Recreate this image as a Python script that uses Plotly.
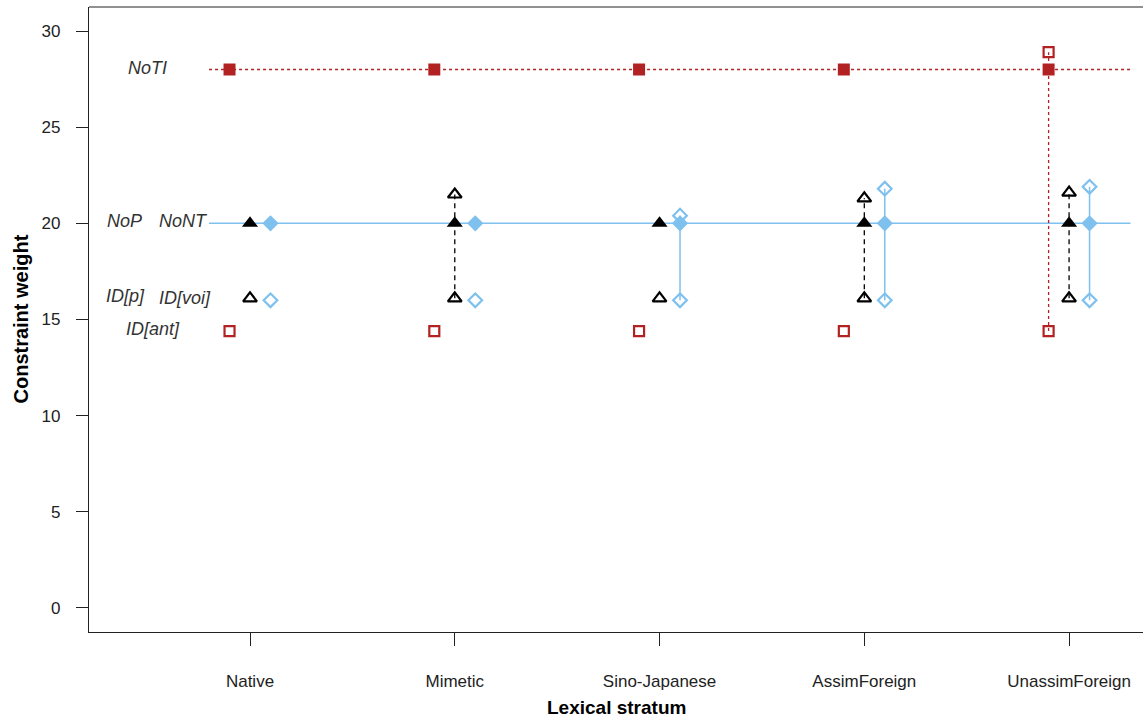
import plotly.graph_objects as go

# ---------------- data ----------------
strata = ["Native", "Mimetic", "Sino-Japanese", "AssimForeign", "UnassimForeign"]
positions = [1, 2, 3, 4, 5]

NoTI = [28.0, 28.0, 28.0, 28.0, 28.0]
ID_ant = [14.4, 14.4, 14.4, 14.4, 14.4]
ID_ant_stratum = [None, None, None, None, 28.9]

NoP = [20.0, 20.0, 20.0, 20.0, 20.0]
ID_p = [16.1, 16.1, 16.1, 16.1, 16.1]
ID_p_stratum = [None, 21.5, None, 21.3, 21.6]

NoNT = [20.0, 20.0, 20.0, 20.0, 20.0]
ID_voi = [16.0, 16.0, 16.0, 16.0, 16.0]
ID_voi_stratum = [None, None, 20.4, 21.8, 21.9]

y_ticks = [0, 5, 10, 15, 20, 25, 30]

# ---------------- style ----------------
RED = "#B22222"
BLUE = "#7EC0EE"
BLACK = "#000000"
OFFSET = 0.1
LINE_X0, LINE_X1 = 0.8, 5.3
FONT = "Liberation Sans, Arial, sans-serif"

fig = go.Figure()


def seg_lines(xs, base, spec):
    lx, ly = [], []
    for x, b, s in zip(xs, base, spec):
        if s is not None:
            lx += [x, x, None]
            ly += [b, s, None]
    return lx, ly


xr = [p - OFFSET for p in positions]
xb = [p for p in positions]
xd = [p + OFFSET for p in positions]

# horizontal reference lines
fig.add_trace(go.Scatter(x=[LINE_X0, LINE_X1], y=[NoTI[0], NoTI[0]], mode="lines",
                         line=dict(color=RED, width=1.3, dash="dot"), hoverinfo="skip"))
fig.add_trace(go.Scatter(x=[LINE_X0, LINE_X1], y=[NoNT[0], NoNT[0]], mode="lines",
                         line=dict(color=BLUE, width=1.5), hoverinfo="skip"))

# vertical connectors
lx, ly = seg_lines(xr, ID_ant, ID_ant_stratum)
fig.add_trace(go.Scatter(x=lx, y=ly, mode="lines", line=dict(color=RED, width=1.3, dash="dot")))
lx, ly = seg_lines(xb, ID_p, ID_p_stratum)
fig.add_trace(go.Scatter(x=lx, y=ly, mode="lines", line=dict(color=BLACK, width=1.3, dash="5px,4px")))
lx, ly = seg_lines(xd, ID_voi, ID_voi_stratum)
fig.add_trace(go.Scatter(x=lx, y=ly, mode="lines", line=dict(color=BLUE, width=1.5)))

# markers
open_line = 2.2
fig.add_trace(go.Scatter(x=xr, y=NoTI, mode="markers",
                         marker=dict(symbol="square", size=12, color=RED)))
fig.add_trace(go.Scatter(x=xr, y=ID_ant, mode="markers",
                         marker=dict(symbol="square-open", size=10, color=RED,
                                     line=dict(width=open_line, color=RED))))
fig.add_trace(go.Scatter(x=xr, y=ID_ant_stratum, mode="markers",
                         marker=dict(symbol="square-open", size=10, color=RED,
                                     line=dict(width=open_line, color=RED))))

fig.add_trace(go.Scatter(x=xb, y=NoP, mode="markers",
                         marker=dict(symbol="triangle-up", size=14, color=BLACK)))
fig.add_trace(go.Scatter(x=xb, y=ID_p, mode="markers",
                         marker=dict(symbol="triangle-up-open", size=12, color=BLACK,
                                     line=dict(width=open_line, color=BLACK))))
fig.add_trace(go.Scatter(x=xb, y=ID_p_stratum, mode="markers",
                         marker=dict(symbol="triangle-up-open", size=12, color=BLACK,
                                     line=dict(width=open_line, color=BLACK))))

fig.add_trace(go.Scatter(x=xd, y=NoNT, mode="markers",
                         marker=dict(symbol="diamond", size=12.5, color=BLUE)))
fig.add_trace(go.Scatter(x=xd, y=ID_voi, mode="markers",
                         marker=dict(symbol="diamond-open", size=10.5, color=BLUE,
                                     line=dict(width=open_line, color=BLUE))))
fig.add_trace(go.Scatter(x=xd, y=ID_voi_stratum, mode="markers",
                         marker=dict(symbol="diamond-open", size=10.5, color=BLUE,
                                     line=dict(width=open_line, color=BLUE))))

# constraint labels
labels = [
    ("NoTI", 0.497, NoTI[0]),
    ("NoP", 0.389, NoP[0]),
    ("NoNT", 0.676, NoNT[0]),
    ("ID[p]", 0.394, ID_p[0]),
    ("ID[voi]", 0.683, ID_voi[0]),
    ("ID[ant]", 0.526, ID_ant[0]),
]
annotations = []
for txt, x, y in labels:
    annotations.append(dict(x=x, y=y, xref="x", yref="y", text="<i>%s</i>" % txt,
                            showarrow=False, font=dict(family=FONT, size=18, color="#333333"),
                            xanchor="center", yanchor="middle", yshift=2))

annotations.append(dict(x=0.5, y=0, xref="paper", yref="paper",
                        text="<b>Lexical stratum</b>", showarrow=False,
                        font=dict(family=FONT, size=19, color="#000000"),
                        xanchor="center", yanchor="middle", yshift=-75))
annotations.append(dict(x=0, y=0.5, xref="paper", yref="paper",
                        text="<b>Constraint weight</b>", showarrow=False, textangle=-90,
                        font=dict(family=FONT, size=20, color="#000000"),
                        xanchor="center", yanchor="middle", xshift=-69))

fig.update_layout(
    width=1143, height=717,
    margin=dict(l=89, r=0, t=7, b=85),
    paper_bgcolor="white", plot_bgcolor="white",
    showlegend=False,
    font=dict(family=FONT, size=17, color="#000000"),
    annotations=annotations,
    shapes=[dict(type="line", xref="paper", yref="paper", x0=0, x1=1, y0=1, y1=1,
                 line=dict(color="#222222", width=1.2))],
)
fig.update_xaxes(range=[0.2137, 5.361], tickvals=positions, ticktext=strata,
                 showgrid=False, zeroline=False, showline=True, linecolor="#222222", linewidth=1.2,
                 ticks="outside", ticklen=13, tickcolor="#222222", tickwidth=1,
                 ticklabelstandoff=20, tickfont=dict(family=FONT, size=17, color="#222222"))
fig.update_yaxes(range=[-1.25, 31.25], tickvals=y_ticks,
                 showgrid=False, zeroline=False, showline=True, linecolor="#222222", linewidth=1.2,
                 ticks="outside", ticklen=12, tickcolor="#222222", tickwidth=1,
                 ticklabelstandoff=12, tickfont=dict(family=FONT, size=17, color="#222222"))

fig.write_html("out.html", config={"displayModeBar": False},
               post_script="document.body.style.margin='0px';document.body.style.overflow='hidden';")
